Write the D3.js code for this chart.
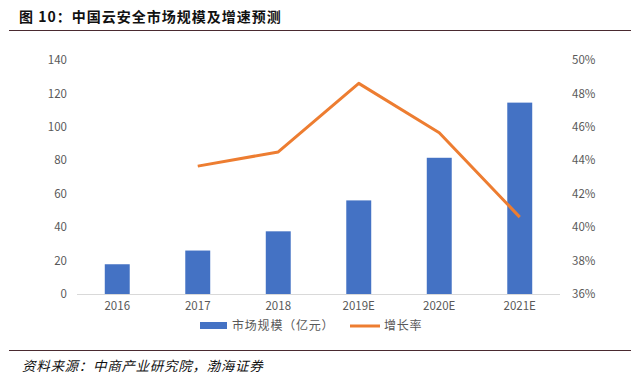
<!DOCTYPE html>
<html>
<head>
<meta charset="utf-8">
<script src="https://cdn.jsdelivr.net/npm/d3@7"></script>
<style>
  body { margin: 0; background: #fff; }
  text { font-family: "Noto Sans CJK SC", "Noto Sans", sans-serif; }
</style>
</head>
<body>
<div id="chart"></div>
<script>
var width = 640,
  height = 385;

// data
var years = ["2016", "2017", "2018", "2019E", "2020E", "2021E"];
var marketSize = [17.8, 26, 37.5, 56, 81.5, 114.5];      // 亿元
var growthYears = ["2017", "2018", "2019E", "2020E", "2021E"];
var growthRate = [43.65, 44.5, 48.6, 45.65, 40.6];      // %
var leftTicks = [0, 20, 40, 60, 80, 100, 120, 140];
var rightTicks = [36, 38, 40, 42, 44, 46, 48, 50];

var titleText = "图 10：中国云安全市场规模及增速预测";
var sourceText = "资料来源：中商产业研究院，渤海证券";

var margin = { top: 60, right: 80, bottom: 91, left: 77 };

var svg = d3.select("#chart").append("svg")
  .attr("width", width)
  .attr("height", height);

// title + rules
svg.append("text")
  .attr("x", 19)
  .attr("y", 22)
  .attr("font-size", 14)
  .attr("font-weight", "bold")
  .attr("fill", "#111")
  .style("letter-spacing", "1px")
  .text(titleText);

svg.append("line")
  .attr("x1", 9).attr("x2", 631)
  .attr("y1", 30.5).attr("y2", 30.5)
  .attr("stroke", "#4a2a30")
  .attr("stroke-width", 1.2);

svg.append("line")
  .attr("x1", 9).attr("x2", 631)
  .attr("y1", 350.5).attr("y2", 350.5)
  .attr("stroke", "#4a2a30")
  .attr("stroke-width", 1.2);

svg.append("text")
  .attr("x", 22)
  .attr("y", 371)
  .attr("font-size", 13.5)
  .attr("font-style", "italic")
  .attr("fill", "#111")
  .style("letter-spacing", "0.7px")
  .text(sourceText);

var x = d3.scaleBand()
  .domain(years)
  .range([margin.left, width - margin.right])
  .paddingInner(0.69)
  .paddingOuter(0.345);

var yL = d3.scaleLinear()
  .domain([0, 140])
  .range([height - margin.bottom, margin.top]);

var yR = d3.scaleLinear()
  .domain([36, 50])
  .range([height - margin.bottom, margin.top]);

// left axis labels
var leftAxis = svg.append("g")
  .attr("transform", "translate(" + (margin.left - 10) + ",0)")
  .call(d3.axisLeft(yL).tickValues(leftTicks).tickSize(0).tickPadding(0));
leftAxis.select(".domain").remove();
leftAxis.selectAll("text")
  .attr("font-size", 11.5)
  .attr("fill", "#595959")
  .attr("font-family", "Open Sans, sans-serif");

// right axis labels
var rightAxis = svg.append("g")
  .attr("transform", "translate(" + (width - margin.right + 12) + ",0)")
  .call(d3.axisRight(yR).tickValues(rightTicks).tickSize(0).tickPadding(0)
    .tickFormat(function(d) { return d + "%"; }));
rightAxis.select(".domain").remove();
rightAxis.selectAll("text")
  .attr("font-size", 11.5)
  .attr("fill", "#595959")
  .attr("font-family", "Open Sans, sans-serif");

// bars
svg.append("g")
  .selectAll("rect")
  .data(years)
  .enter().append("rect")
  .attr("x", function(d) { return x(d); })
  .attr("y", function(d, i) { return yL(marketSize[i]); })
  .attr("width", x.bandwidth())
  .attr("height", function(d, i) { return yL(0) - yL(marketSize[i]); })
  .attr("fill", "#4472C4");

// baseline
svg.append("line")
  .attr("x1", margin.left).attr("x2", width - margin.right)
  .attr("y1", yL(0) + 0.5).attr("y2", yL(0) + 0.5)
  .attr("stroke", "#d9d9d9")
  .attr("stroke-width", 1);

// bottom axis labels
var bottomAxis = svg.append("g")
  .attr("transform", "translate(0," + (yL(0) + 8) + ")")
  .call(d3.axisBottom(x).tickSize(0).tickPadding(0));
bottomAxis.select(".domain").remove();
bottomAxis.selectAll("text")
  .attr("font-size", 11.5)
  .attr("fill", "#595959")
  .attr("font-family", "Open Sans, sans-serif");

// growth line
var line = d3.line()
  .x(function(d, i) { return x(growthYears[i]) + x.bandwidth() / 2; })
  .y(function(d) { return yR(d); });

svg.append("path")
  .datum(growthRate)
  .attr("d", line)
  .attr("fill", "none")
  .attr("stroke", "#ED7D31")
  .attr("stroke-width", 3)
  .attr("stroke-linejoin", "round");

// legend
var legend = svg.append("g").attr("transform", "translate(0,326)");
legend.append("rect")
  .attr("x", 200).attr("y", -4)
  .attr("width", 27).attr("height", 7)
  .attr("fill", "#4472C4");
legend.append("text")
  .attr("x", 232).attr("y", 4)
  .attr("font-size", 12)
  .attr("fill", "#595959")
  .style("letter-spacing", "0.8px")
  .text("市场规模（亿元）");
legend.append("line")
  .attr("x1", 350).attr("x2", 380)
  .attr("y1", 0).attr("y2", 0)
  .attr("stroke", "#ED7D31")
  .attr("stroke-width", 3);
legend.append("text")
  .attr("x", 384).attr("y", 4)
  .attr("font-size", 12)
  .attr("fill", "#595959")
  .style("letter-spacing", "0.8px")
  .text("增长率");
</script>
</body>
</html>
